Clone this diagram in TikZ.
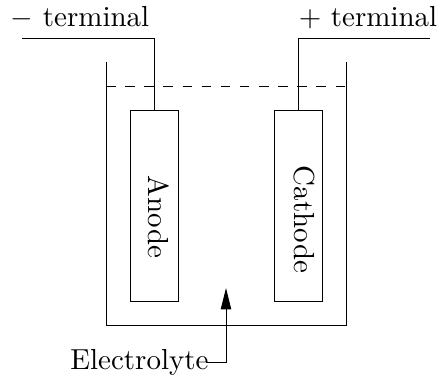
\documentclass[tikz,border=0pt]{standalone}
\usepackage{amsmath}
\usetikzlibrary{positioning, arrows.meta, calc}

\begin{document}
\begin{tikzpicture}[x=0.0125cm,y=-0.0125cm,>={Triangle[length=7.6pt,width=3.7pt]},line width=0.32pt,
            plate/.style={draw,minimum width=0.6cm,minimum height=2.3875cm,inner sep=0pt},
            platename/.style={rotate=-90,inner sep=0pt,scale=1.03},
            tag/.style={inner sep=0pt,scale=1.03}]
            \useasboundingbox (0,0) rectangle (438,383);

            % cell walls and liquid level
            \coordinate (wallL) at (106,62);
            \coordinate (wallR) at (346,62);
            \coordinate (baseL) at (106,325);
            \coordinate (baseR) at (346,325);
            \coordinate (levelL) at (106,86);
            \coordinate (levelR) at (346,86);
            \draw (wallL) -- (baseL) -- (baseR) -- (wallR);
            \draw[dash pattern=on 3.4pt off 3.4pt] (levelL) -- (levelR);

            % plates
            \node[plate] (anode) at (154,205.5) {};
            \node[plate] (cathode) at (298,205.5) {};
            \node[platename] (anodename) at (159,217) {Anode};
            \node[platename] (cathodename) at (304,219.5) {Cathode};

            % wires
            \node[tag] (minus) at (80,18) {$-$ terminal};
            \node[tag] (plus) at (368,18) {$+$ terminal};
            \coordinate (wireL) at (22,38);
            \coordinate (wireR) at (430,38);
            \draw (wireL) -| (anode.north);
            \draw (wireR) -| (cathode.north);

            % pointer
            \node[tag] (electrolyte) at (139.5,362) {Electrolyte};
            \coordinate (tip) at (226,288);
            \draw[->] ($(electrolyte.east)+(-3,0)$) -| (tip);
            \end{tikzpicture}
\end{document}
